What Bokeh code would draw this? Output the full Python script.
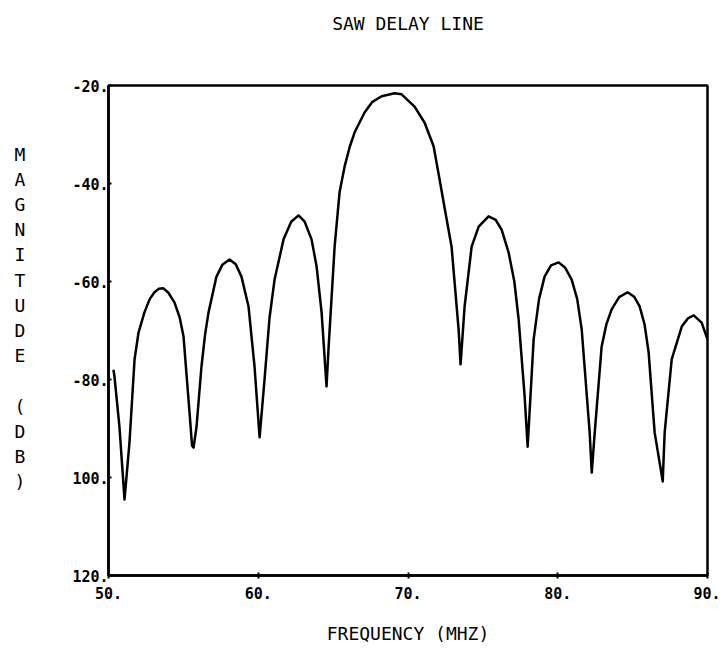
from bokeh.plotting import figure
from bokeh.models import Range1d, FixedTicker
from bokeh.embed import file_html
from bokeh.resources import INLINE

# Frequency (MHz) and magnitude (dB)
freq = [50.33, 50.40, 50.73, 51.07, 51.40, 51.74, 52.00, 52.40, 52.75, 53.07,
        53.35, 53.67, 54.00, 54.41, 54.75, 55.01, 55.41, 55.58, 55.68, 55.88,
        56.21, 56.45, 56.68, 57.21, 57.60, 58.08, 58.50, 58.88, 59.35, 59.75,
        60.09, 60.42, 60.75, 61.09, 61.69, 62.20, 62.69, 63.10, 63.56, 63.90,
        64.23, 64.56, 64.70, 65.10, 65.43, 65.77, 66.10, 66.43, 67.10, 67.60,
        68.24, 69.10, 69.57, 70.44, 71.11, 71.71, 72.11, 72.55, 72.91, 73.38,
        73.51, 73.78, 74.25, 74.72, 75.38, 75.85, 76.25, 76.72, 77.10, 77.39,
        77.79, 77.99, 78.39, 78.75, 79.12, 79.55, 80.06, 80.50, 80.93, 81.30,
        81.60, 82.13, 82.27, 82.47, 82.93, 83.25, 83.60, 84.10, 84.67, 85.10,
        85.47, 85.80, 86.07, 86.47, 87.01, 87.14, 87.61, 88.28, 88.70, 89.08,
        89.61, 90.00]
mag = [-78.0, -79.4, -89.6, -104.5, -92.9, -75.9, -70.5, -66.3, -63.6, -62.2,
       -61.5, -61.4, -62.3, -64.3, -67.3, -71.2, -86.7, -93.5, -93.9, -89.6,
       -77.3, -70.8, -66.3, -59.0, -56.6, -55.5, -56.5, -59.0, -65.1, -77.3,
       -91.8, -80.0, -67.5, -59.6, -51.4, -47.8, -46.5, -47.8, -51.4, -57.0,
       -66.3, -81.4, -73.3, -52.9, -41.8, -36.5, -32.6, -29.6, -25.5, -23.4,
       -22.2, -21.6, -21.8, -24.3, -27.6, -32.4, -39.2, -46.8, -52.9, -69.8,
       -76.9, -65.1, -52.9, -48.8, -46.7, -47.4, -49.4, -54.1, -60.0, -67.8,
       -83.5, -93.7, -71.8, -63.6, -59.0, -56.7, -56.1, -57.2, -59.6, -63.6,
       -69.8, -90.8, -99.0, -90.8, -73.3, -68.7, -65.7, -63.2, -62.2, -63.1,
       -65.1, -68.8, -74.5, -90.8, -100.8, -90.8, -75.9, -69.2, -67.5, -66.9,
       -68.4, -71.8]

x_ticks = [50, 60, 70, 80, 90]
x_tick_labels = ["50.", "60.", "70.", "80.", "90."]
y_ticks = [-120, -100, -80, -60, -40, -20]
y_tick_labels = ["120.", "100.", "-80.", "-60.", "-40.", "-20."]

FONT = "DejaVu Sans Mono"

p = figure(width=720, height=648, output_backend="svg", toolbar_location=None,
           x_range=Range1d(50, 90), y_range=Range1d(-120, -20),
           min_border_left=108, min_border_right=13, min_border_top=85,
           min_border_bottom=73)

p.line(freq, mag, line_color="black", line_width=2.5, line_join="round")

p.title.text = "SAW DELAY LINE\n \n "
p.title.align = "center"
p.title.text_font = FONT
p.title.text_font_size = "18px"
p.title.text_font_style = "normal"
p.title.text_color = "black"
p.title.standoff = 20

p.grid.visible = False
p.outline_line_color = "black"
p.outline_line_width = 2.5

for ax in (p.xaxis[0], p.yaxis[0]):
    ax.axis_line_width = 2.5
    ax.axis_line_color = "black"
    ax.major_tick_in = 3
    ax.major_tick_out = 3
    ax.major_tick_line_width = 2
    ax.major_tick_line_color = "black"
    ax.minor_tick_line_color = None
    ax.major_label_text_font = FONT
    ax.major_label_text_font_size = "15px"
    ax.major_label_text_font_style = "bold"
    ax.major_label_text_color = "black"
    ax.axis_label_text_font = FONT
    ax.axis_label_text_font_style = "normal"
    ax.axis_label_text_font_size = "18px"
    ax.axis_label_text_color = "black"

p.xaxis.ticker = FixedTicker(ticks=x_ticks)
p.xaxis.major_label_overrides = dict(zip(x_ticks, x_tick_labels))
p.xaxis.major_label_standoff = 8
p.xaxis.axis_label = "FREQUENCY (MHZ)"
p.xaxis.axis_label_standoff = 21

p.yaxis.ticker = FixedTicker(ticks=y_ticks)
p.yaxis.major_label_overrides = dict(zip(y_ticks, y_tick_labels))
p.yaxis.major_label_standoff = 0
p.yaxis.major_tick_out = 0
p.yaxis.axis_label = "M\nA\nG\nN\nI\nT\nU\nD\nE\n \n(\nD\nB\n)\n "
p.yaxis.axis_label_orientation = "horizontal"
p.yaxis.axis_label_standoff = 44

open("out.html", "w").write(file_html(p, INLINE))
